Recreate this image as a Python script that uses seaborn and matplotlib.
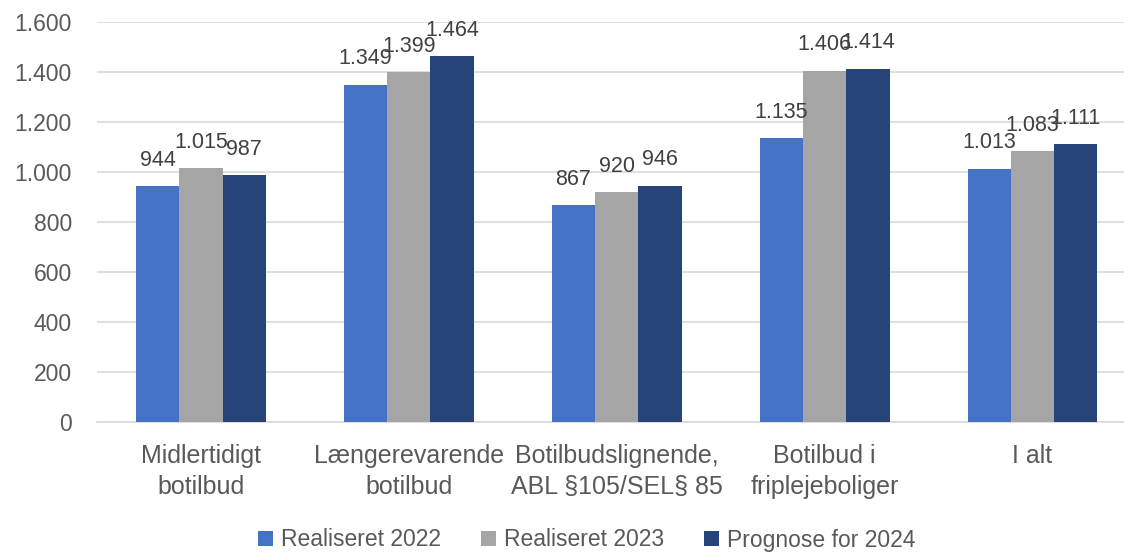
import pandas as pd
import matplotlib.pyplot as plt
import seaborn as sns

categories = ['Midlertidigt\nbotilbud', 'Længerevarende\nbotilbud',
              'Botilbudslignende,\nABL §105/SEL§ 85', 'Botilbud i\nfriplejeboliger', 'I alt']
series = ['Realiseret 2022', 'Realiseret 2023', 'Prognose for 2024']
real_2022 = [944, 1349, 867, 1135, 1013]
real_2023 = [1015, 1399, 920, 1406, 1083]
prog_2024 = [987, 1464, 946, 1414, 1111]
colors = ['#4472C4', '#A5A5A5', '#264478']

rows = []
for s, vals in zip(series, [real_2022, real_2023, prog_2024]):
    for c, v in zip(categories, vals):
        rows.append({'kategori': c, 'serie': s, 'værdi': v})
df = pd.DataFrame(rows)

sns.set_style('white')
plt.rcParams['font.family'] = ['Liberation Sans', 'DejaVu Sans']

fig = plt.figure(figsize=(11.24, 5.53), dpi=100)
ax = fig.add_axes([97 / 1124, 1 - 422 / 553, 1 - 97 / 1124, 400 / 553])

sns.barplot(data=df, x='kategori', y='værdi', hue='serie', palette=colors,
            width=0.625, gap=0, saturation=1, linewidth=0, edgecolor='none',
            ax=ax, zorder=3)

def fmt(v):
    return f'{v:,.0f}'.replace(',', '.')

for cont in ax.containers:
    ax.bar_label(cont, labels=[fmt(b.get_height()) for b in cont], padding=11,
                 fontsize=15.5, color='#404040')

ax.set_ylim(0, 1600)
ax.set_xlim(-0.5, 4.44)
ax.set_yticks(range(0, 1601, 200))
ax.set_yticklabels([fmt(t) for t in range(0, 1601, 200)])
ax.yaxis.grid(True, color='#D9D9D9', linewidth=1.2, zorder=0)
ax.set_xlabel('')
ax.set_ylabel('')
for side in ['top', 'right', 'left']:
    ax.spines[side].set_visible(False)
ax.spines['bottom'].set_color('#D9D9D9')
ax.spines['bottom'].set_linewidth(1.2)
ax.tick_params(axis='y', length=0, labelsize=16.5, labelcolor='#595959', pad=18)
ax.tick_params(axis='x', length=0, labelsize=18, labelcolor='#595959', pad=16)
for lab in ax.get_xticklabels():
    lab.set_linespacing(1.35)

leg = ax.legend(loc='center', bbox_to_anchor=(0.477, -0.295), ncol=3, frameon=False,
                fontsize=16.5, handlelength=0.65, handleheight=0.65, handletextpad=0.35,
                columnspacing=1.75, labelcolor='#595959')

fig.savefig('out.png', dpi=100)
